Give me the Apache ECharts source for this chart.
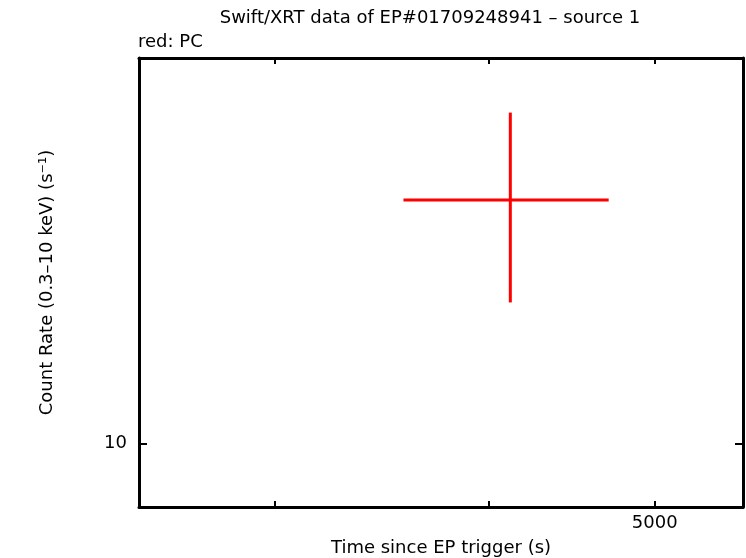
<!DOCTYPE html>
<html>
<head>
<meta charset="utf-8">
<script src="https://cdn.jsdelivr.net/npm/echarts@6/dist/echarts.min.js"></script>
<style>
html,body{margin:0;padding:0;background:#fff;}
#chart{width:746px;height:558px;}
</style>
</head>
<body>
<div id="chart"></div>
<script>
// Data (PC mode point): time, rate, time bin edges, rate errors
const pcTime = [4118];
const pcTimeLo = [3567];
const pcTimeHi = [4700];
const pcRate = [15.0];
const pcRateLo = [12.65];
const pcRateHi = [17.35];

// Axis ranges and ticks
const xRange = [2500, 5630];
const yRange = [9, 19];
const xTicks = [3000, 4000, 5000];
const xLabels = [5000];
const yTicks = [10];
const yLabels = [10];

const titleText = 'Swift/XRT data of EP#01709248941 \u2013 source 1';
const subText = 'red: PC';
const xName = 'Time since EP trigger (s)';
const yName = 'Count Rate (0.3\u201310 keV) (s\u207B\u00B9)';

const FONT = 'DejaVu Sans, Liberation Sans, Arial, sans-serif';
const FS = 18;

const pcData = pcTime.map((t, i) => [t, pcRate[i], pcTimeLo[i], pcTimeHi[i], pcRateLo[i], pcRateHi[i]]);

function axisCommon(isX, show, ticks, labels, len) {
  return {
    type: 'log',
    logBase: 10,
    min: isX ? xRange[0] : yRange[0],
    max: isX ? xRange[1] : yRange[1],
    axisLine: { show: true, onZero: false, lineStyle: { color: '#000', width: 3 } },
    axisTick: { show: true, inside: true, length: len, customValues: ticks, lineStyle: { color: '#000', width: 2 } },
    minorTick: { show: false },
    splitLine: { show: false },
    axisLabel: {
      show: show,
      customValues: labels,
      color: '#000',
      fontFamily: FONT,
      fontSize: FS,
      margin: isX ? 7 : 12,
      formatter: v => String(Math.round(v))
    }
  };
}

const chart = echarts.init(document.getElementById('chart'), null, { renderer: 'canvas' });
chart.setOption({
  backgroundColor: '#fff',
  animation: false,
  graphic: [
    { type: 'text', x: 430, y: 18, style: { text: titleText, fontFamily: FONT, fontSize: FS, fill: '#000', textAlign: 'center', textVerticalAlign: 'middle' } },
    { type: 'text', x: 138, y: 42, style: { text: subText, fontFamily: FONT, fontSize: FS, fill: '#000', textAlign: 'left', textVerticalAlign: 'middle' } }
  ],
  grid: { left: 139, right: 3, top: 58, bottom: 51, containLabel: false, outerBoundsMode: 'none' },
  xAxis: [
    Object.assign(axisCommon(true, true, xTicks, xLabels, 6), {
      position: 'bottom',
      name: xName, nameLocation: 'middle', nameGap: 32,
      nameTextStyle: { fontFamily: FONT, fontSize: FS, color: '#000' }
    }),
    Object.assign(axisCommon(true, false, xTicks, xLabels, 6), { position: 'top' })
  ],
  yAxis: [
    Object.assign(axisCommon(false, true, yTicks, yLabels, 8), {
      position: 'left',
      name: yName, nameLocation: 'middle', nameGap: 83, nameRotate: 90,
      nameTextStyle: { fontFamily: FONT, fontSize: FS, color: '#000' }
    }),
    Object.assign(axisCommon(false, false, yTicks, yLabels, 8), { position: 'right' })
  ],
  series: [{
    type: 'custom',
    name: 'PC',
    xAxisIndex: 0,
    yAxisIndex: 0,
    clip: false,
    data: pcData,
    encode: { x: [0, 2, 3], y: [1, 4, 5] },
    renderItem: function (params, api) {
      const l = api.coord([api.value(2), api.value(1)]);
      const r = api.coord([api.value(3), api.value(1)]);
      const b = api.coord([api.value(0), api.value(4)]);
      const t = api.coord([api.value(0), api.value(5)]);
      const style = { stroke: '#ff0000', lineWidth: 3 };
      return {
        type: 'group',
        children: [
          { type: 'line', shape: { x1: l[0], y1: l[1], x2: r[0], y2: r[1] }, style: style },
          { type: 'line', shape: { x1: t[0], y1: t[1], x2: b[0], y2: b[1] }, style: style }
        ]
      };
    }
  }]
});
</script>
</body>
</html>
